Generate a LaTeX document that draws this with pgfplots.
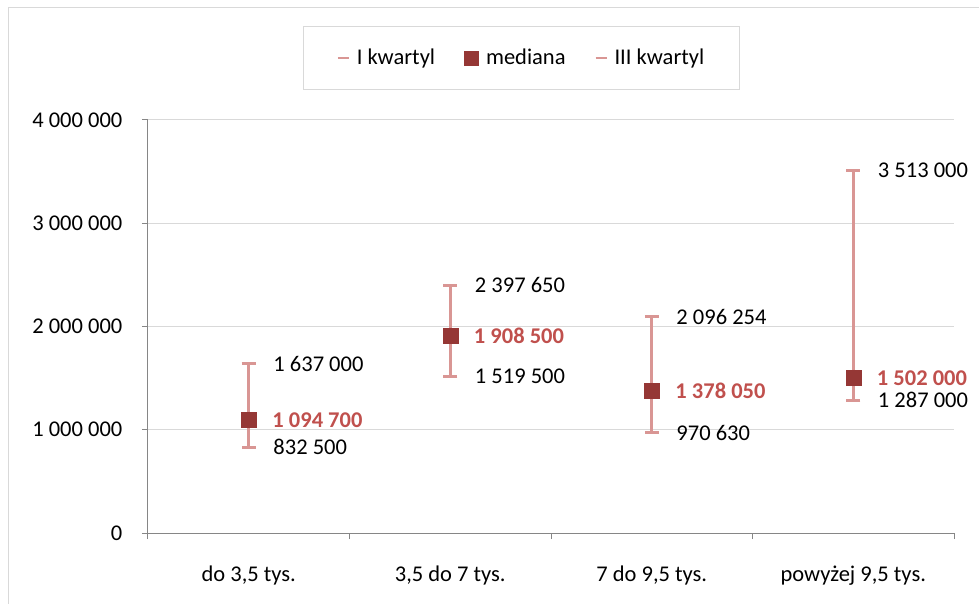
\documentclass[border=0pt]{standalone}
\usepackage{fontspec}
\setmainfont{Carlito}
\usepackage{pgfplots}
\usepackage{pgfplotstable}
\pgfplotsset{compat=1.18}
\definecolor{barpink}{RGB}{217,150,148}
\definecolor{medred}{RGB}{149,55,53}
\definecolor{labred}{RGB}{192,80,77}
\definecolor{gridc}{RGB}{217,217,217}
\definecolor{axisc}{RGB}{134,134,134}

% kwartyle i mediana wg przedzialu
\pgfplotstableread{
x q1 med q3 lq1 lmed lq3
0 832500 1094700 1637000 832~500 1~094~700 1~637~000
1 1519500 1908500 2397650 1~519~500 1~908~500 2~397~650
2 970630 1378050 2096254 970~630 1~378~050 2~096~254
3 1287000 1502000 3513000 1~287~000 1~502~000 3~513~000
}\kwartyle

\begin{document}
\fontsize{22.5bp}{27bp}\selectfont
\begin{tikzpicture}
\useasboundingbox (-148bp,-71bp) rectangle (831bp,533bp);
\draw[gridc, line width=1bp] (-139bp,-80bp) -- (-139bp,525bp) -- (840bp,525bp);
\begin{axis}[
    scale only axis,
    width=806bp, height=413bp,
    xmin=-0.5, xmax=3.5,
    ymin=0, ymax=4000000,
    scaled y ticks=false,
    axis lines=left,
    axis line style={-, axisc, line width=1bp},
    xtick={0,1,2,3},
    xticklabels={{do 3,5 tys.}, {3,5 do 7 tys.}, {7 do 9,5 tys.}, {powyżej 9,5 tys.}},
    major x tick style={draw=none},
    minor xtick={-0.5,0.5,1.5,2.5,3.5},
    minor x tick style={axisc, line width=1bp},
    minor tick length=6bp,
    ytick={0,1000000,2000000,3000000,4000000},
    yticklabels={0, 1~000~000, 2~000~000, 3~000~000, 4~000~000},
    major y tick style={axisc, line width=1bp},
    major tick length=6bp,
    tick align=outside,
    ymajorgrids,
    grid style={gridc, line width=1bp},
    xticklabel style={yshift=-19bp},
    yticklabel style={xshift=-12bp},
    clip=false,
    legend columns=3,
    legend style={at={(0.4634,1.149)}, anchor=center, draw=gridc, line width=1bp,
        inner xsep=33bp, inner ysep=20bp,
        /tikz/every odd column/.append style={column sep=5bp},
        /tikz/every even column/.append style={column sep=27bp}},
    legend cell align=left,
]
\addplot[draw=none, mark=none, forget plot,
    error bars/.cd, y dir=both, y explicit, error mark=|,
    error bar style={draw=barpink, line width=3bp},
    error mark options={draw=barpink, line width=3bp, mark size=7bp}]
    table[x=x, y=med, y error plus expr=\thisrow{q3}-\thisrow{med},
          y error minus expr=\thisrow{med}-\thisrow{q1}] {\kwartyle};

\addplot[draw=none, mark=none,
    nodes near coords, point meta=explicit symbolic,
    every node near coord/.style={anchor=west, xshift=17bp, text=black},
    legend image code/.code={\draw[draw=barpink, line width=2bp] (0bp,0bp) -- (11bp,0bp);}]
    table[x=x, y=q1, meta=lq1] {\kwartyle};
\addlegendentry{I kwartyl}

\addplot[only marks, mark=square*, mark size=7.5bp, color=medred,
    nodes near coords, point meta=explicit symbolic,
    every node near coord/.style={anchor=west, xshift=16bp, text=labred, font=\bfseries},
    legend image code/.code={\fill[medred] (0bp,-7bp) rectangle (14bp,7bp);}]
    table[x=x, y=med, meta=lmed] {\kwartyle};
\addlegendentry{mediana}

\addplot[draw=none, mark=none,
    nodes near coords, point meta=explicit symbolic,
    every node near coord/.style={anchor=west, xshift=17bp, text=black},
    legend image code/.code={\draw[draw=barpink, line width=2bp] (0bp,0bp) -- (11bp,0bp);}]
    table[x=x, y=q3, meta=lq3] {\kwartyle};
\addlegendentry{III kwartyl}
\end{axis}
\end{tikzpicture}
\end{document}
